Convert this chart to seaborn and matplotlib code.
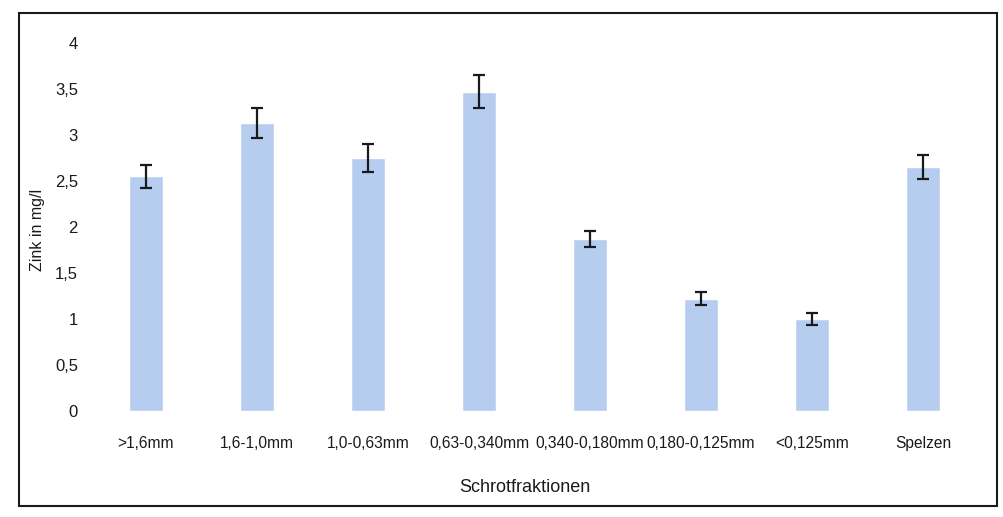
import matplotlib
matplotlib.use("Agg")
import matplotlib.pyplot as plt
from matplotlib.patches import Rectangle
from matplotlib.ticker import FuncFormatter
import seaborn as sns
import pandas as pd
import numpy as np

# Zinc content per grist fraction (mg/l) with standard deviation
fraktionen = [">1,6mm", "1,6-1,0mm", "1,0-0,63mm", "0,63-0,340mm",
              "0,340-0,180mm", "0,180-0,125mm", "<0,125mm", "Spelzen"]
zink = [2.55, 3.13, 2.75, 3.47, 1.87, 1.22, 1.00, 2.65]
stdabw = [0.125, 0.16, 0.15, 0.18, 0.09, 0.07, 0.06, 0.13]

df = pd.DataFrame({"Fraktion": fraktionen, "Zink": zink, "SD": stdabw})

sns.set_theme(style="white")
plt.rcParams["font.family"] = ["Liberation Sans", "DejaVu Sans"]

fig = plt.figure(figsize=(10.04, 5.17), dpi=100)
ax = fig.add_axes([0.0901, 0.205, 0.8845, 0.712])

sns.barplot(data=df, x="Fraktion", y="Zink", color="#b7cdf0",
            saturation=1, width=0.3, errorbar=None, ax=ax)
ax.errorbar(x=np.arange(len(df)), y=df["Zink"], yerr=df["SD"],
            fmt="none", ecolor="#1a1a1a", elinewidth=1.6,
            capsize=4, capthick=1.6)

ax.set_xlim(-0.5, len(df) - 0.5)
ax.set_ylim(0, 4)
ax.set_yticks(np.arange(0, 4.01, 0.5))
ax.yaxis.set_major_formatter(
    FuncFormatter(lambda v, _: f"{v:g}".replace(".", ",")))

for s in ax.spines.values():
    s.set_visible(False)
ax.tick_params(axis="x", length=0, pad=18, labelsize=11.2, colors="#1a1a1a")
ax.tick_params(axis="y", length=0, pad=9, labelsize=12, colors="#1a1a1a")

ax.set_xlabel("Schrotfraktionen", fontsize=13, color="#1a1a1a")
ax.set_ylabel("Zink in mg/l", fontsize=11.5, color="#1a1a1a")
ax.xaxis.set_label_coords(0.489, -0.185)
ax.yaxis.set_label_coords(-0.051, 0.493)

# Outer frame around the chart
fig.patches.append(Rectangle((0.019, 0.022), 0.974, 0.953,
                             transform=fig.transFigure, fill=False,
                             edgecolor="#1a1a1a", linewidth=1.5))

fig.savefig("out.png", dpi=100, facecolor="white")
